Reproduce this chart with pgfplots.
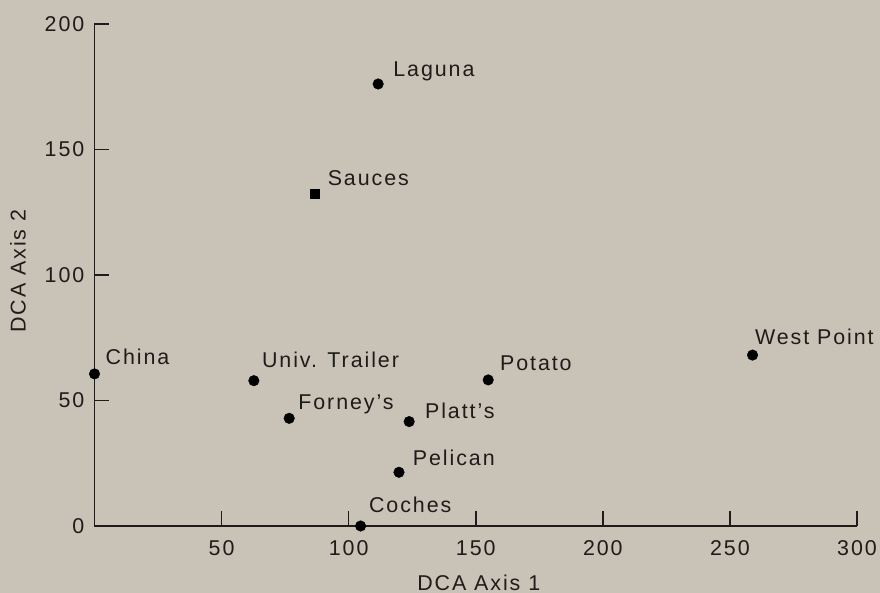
\documentclass[border=0pt]{standalone}
\usepackage{pgfplots}
\pgfplotsset{compat=1.18}
\usepackage{fontspec}
\setmainfont[LetterSpace=9]{Liberation Sans}
\definecolor{paper}{RGB}{201,194,183}
\definecolor{ink}{RGB}{30,28,26}
\begin{document}
\begin{tikzpicture}[font=\fontsize{21.5}{24}\selectfont]
\fill[paper] (-94.5bp,-67bp) rectangle (785.5bp,526bp);
\begin{axis}[
 scale only axis, width=762.5bp, height=502bp,
 xmin=0, xmax=300, ymin=0, ymax=200,
 enlargelimits=false, clip=false,
 axis lines*=left, axis line style={-, ink, line width=1.6bp},
 xtick pos=bottom, ytick pos=left,
 xtick={50,100,...,300}, ytick={0,50,...,200},
 tick align=inside, major tick length=15bp,
 every tick/.style={ink, line width=1.6bp},
 /pgf/number format/assume math mode=true,
 ticklabel style={text=ink, inner sep=0pt},
 xticklabel style={anchor=north, yshift=-14bp},
 yticklabel style={anchor=east, xshift=-10bp},
 xlabel={DCA Axis 1}, ylabel={DCA Axis 2},
 label style={text=ink},
 xlabel style={at={(axis description cs:0.5,0)}, anchor=base, xshift=3bp, yshift=-64bp},
 ylabel style={at={(axis description cs:0,0.5)}, anchor=center, rotate=0, yshift=76.5bp, xshift=4bp},
]
% site scores
\addplot[only marks, mark=*, mark size=5.3bp, black] table {
 x y
 0 60.6
 111.6 176.1
 62.7 57.9
 76.6 42.9
 123.8 41.6
 154.9 58.2
 258.9 68.1
 119.8 21.4
 104.7 0
};
\addplot[only marks, mark=square*, mark size=4.6bp, black] table {
 x y
 86.7 132.5
};
\begin{scope}[every node/.style={anchor=base west, text=ink, inner sep=0pt}]
\node[xshift=11bp, yshift=9.7bp] at (axis cs:0,60.6) {China};
\node[xshift=15bp, yshift=7bp] at (axis cs:111.6,176.1) {Laguna};
\node[xshift=12.7bp, yshift=8bp] at (axis cs:86.7,132.5) {Sauces};
\node[xshift=8bp, yshift=13bp] at (axis cs:62.7,57.9) {Univ. Trailer};
\node[xshift=9bp, yshift=9bp] at (axis cs:76.6,42.9) {Forney's};
\node[xshift=15.7bp, yshift=3.4bp] at (axis cs:123.8,41.6) {Platt's};
\node[xshift=11.7bp, yshift=9.3bp] at (axis cs:154.9,58.2) {Potato};
\node[xshift=2.3bp, yshift=11bp] at (axis cs:258.9,68.1) {West Point};
\node[xshift=13.7bp, yshift=7bp] at (axis cs:119.8,21.4) {Pelican};
\node[xshift=8.3bp, yshift=13.3bp] at (axis cs:104.7,0) {Coches};
\end{scope}
\end{axis}
\pgfresetboundingbox
\useasboundingbox (-94.5bp,-67bp) rectangle (785.5bp,526bp);
\end{tikzpicture}
\end{document}
